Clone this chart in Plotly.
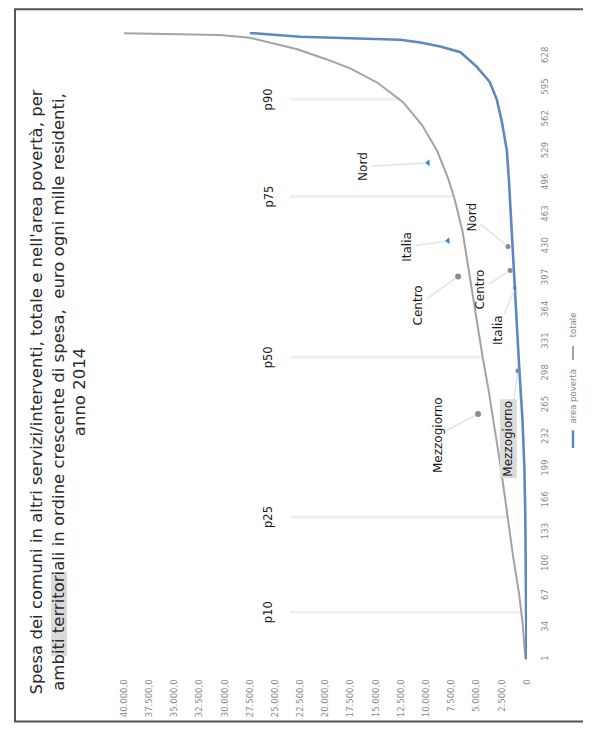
import numpy as np
import plotly.graph_objects as go

# ---------------- data ----------------
rank_totale = [1, 20, 40, 70, 109, 140, 171, 200, 240, 280, 315, 355, 395, 446, 480,
               500, 529, 556, 580, 600, 615, 625, 635, 642, 647, 650, 652]
val_totale = [150, 300, 450, 800, 1400, 1800, 2200, 2600, 3200, 3800, 4400, 5000, 5600,
              6400, 7200, 7800, 8900, 10400, 12300, 14800, 17500, 20000, 22800, 25500,
              27500, 30500, 41000]

rank_poverta = [1, 50, 100, 150, 200, 250, 300, 350, 400, 450, 500, 530, 560, 583, 601,
                617, 632, 638, 642, 645, 648, 652]
val_poverta = [50, 80, 120, 170, 260, 450, 750, 1000, 1300, 1550, 1800, 2000, 2500, 3000,
               3700, 5000, 6600, 8600, 10600, 12600, 22500, 27500]

value_ticks = [0, 2500, 5000, 7500, 10000, 12500, 15000, 17500, 20000, 22500, 25000,
               27500, 30000, 32500, 35000, 37500, 40000]
value_ticktext = ["0", "2.500,0", "5.000,0", "7.500,0", "10.000,0", "12.500,0", "15.000,0",
                  "17.500,0", "20.000,0", "22.500,0", "25.000,0", "27.500,0", "30.000,0",
                  "32.500,0", "35.000,0", "37.500,0", "40.000,0"]
rank_ticks = [1, 34, 67, 100, 133, 166, 199, 232, 265, 298, 331, 364, 397, 430, 463,
              496, 529, 562, 595, 628]

pct_labels = ["p10", "p25", "p50", "p75", "p90"]
pct_ranks = [50, 149, 315, 482, 583]

reg_names = ["Nord", "Italia", "Centro", "Mezzogiorno"]
reg_tot_rank = [517, 436, 399, 256]
reg_tot_val = [9820, 7840, 6845, 4860]
reg_pov_rank = [430, 387, 405, 301]
reg_pov_val = [1885, 1190, 1686, 893]

title_lines = ["Spesa dei comuni in altri servizi/interventi, totale e nell'area povertà, per",
               "ambiti territoriali in ordine crescente di spesa,  euro ogni mille residenti,",
               "anno 2014"]
legend_names = ["area povertà", "totale"]

# ---------------- layout constants ----------------
# page is 591x737 but the browser body keeps an 8px margin -> shrink figure
OFF = 8
W, H = 591 - 2 * OFF, 737 - 2 * OFF
# plot area in page pixels
PL, PR, PT, PB = 124, 527, 32, 673
L, R, T, B = PL - OFF, PR - OFF, PT - OFF, PB - OFF
PW, PH = R - L, B - T


def px(x):  # page pixel -> paper x
    return (x - OFF - L) / PW


def py(y):  # page pixel -> paper y
    return (B - (y - OFF)) / PH


GRAY = "#a3a3a3"
BLUE = "#5d88c2"
TRI = "#2f8fde"
DOT = "#8c8c8c"
FONT = "DejaVu Sans"

fig = go.Figure()

# percentile guide lines (drawn first, under curves)
for r in pct_ranks:
    xe = float(np.interp(r, rank_totale, val_totale))
    fig.add_shape(type="line", xref="x", yref="y", x0=23500, x1=xe, y0=r, y1=r,
                  line=dict(color="#efefef", width=3), layer="below")

fig.add_trace(go.Scatter(x=val_totale, y=rank_totale, mode="lines", name="totale",
                         line=dict(color=GRAY, width=2), showlegend=False))
fig.add_trace(go.Scatter(x=val_poverta, y=rank_poverta, mode="lines", name="area povertà",
                         line=dict(color=BLUE, width=2.6), showlegend=False))

tot_sym = ["triangle-left", "triangle-left", "circle", "circle"]
tot_col = [TRI, TRI, DOT, DOT]
pov_sym = ["circle", "triangle-left", "circle", "circle"]
pov_col = [DOT, TRI, DOT, "#6f8fb8"]
fig.add_trace(go.Scatter(x=reg_tot_val, y=reg_tot_rank, mode="markers", showlegend=False,
                         marker=dict(symbol=tot_sym, color=tot_col, size=6)))
fig.add_trace(go.Scatter(x=reg_pov_val, y=reg_pov_rank, mode="markers", showlegend=False,
                         marker=dict(symbol=pov_sym, color=pov_col, size=5)))

# region labels with leader lines (offsets in px)
tot_off = {"Nord": (-65, 4), "Italia": (-41, 6), "Centro": (-40, 29), "Mezzogiorno": (-40, 21)}
pov_off = {"Nord": (-36, -29), "Italia": (-17, 42), "Centro": (-30, 19), "Mezzogiorno": (-10, 68)}
for n, r, v in zip(reg_names, reg_tot_rank, reg_tot_val):
    ax, ay = tot_off[n]
    fig.add_annotation(x=v, y=r, ax=ax, ay=ay, text=n, textangle=-90, showarrow=True,
                       arrowhead=0, arrowwidth=1.5, arrowcolor="#e4e4e4", standoff=3,
                       font=dict(family=FONT, size=12, color="#1a1a1a"))
for n, r, v in zip(reg_names, reg_pov_rank, reg_pov_val):
    ax, ay = pov_off[n]
    fig.add_annotation(x=v, y=r, ax=ax, ay=ay, text=n, textangle=-90, showarrow=True,
                       arrowhead=0, arrowwidth=1.5, arrowcolor="#e4e4e4", standoff=3,
                       bgcolor="#dcdcdc" if n == "Mezzogiorno" else None,
                       font=dict(family=FONT, size=12, color="#1a1a1a"))

# percentile labels
for lab, r in zip(pct_labels, pct_ranks):
    fig.add_annotation(x=25700, y=r, text=lab, textangle=-90, showarrow=False,
                       font=dict(family=FONT, size=11.5, color="#1a1a1a"))

# highlight behind the word "territoriali" in the title (scan marker)
fig.add_shape(type="rect", xref="paper", yref="paper", x0=px(51), x1=px(67),
              y0=py(662), y1=py(577), fillcolor="#dadada", line=dict(width=0), layer="below")

# title
fig.add_annotation(xref="paper", yref="paper", x=px(58), y=py(396), text="<br>".join(title_lines),
                   xanchor="center", yanchor="middle",
                   textangle=-90, showarrow=False, align="center",
                   font=dict(family=FONT, size=16.5, color="#2b2b2b"))

# legend (rotated, custom)
fig.add_shape(type="line", xref="paper", yref="paper", x0=px(573), x1=px(573),
              y0=py(452), y1=py(434), line=dict(color=BLUE, width=2.5))
fig.add_annotation(xref="paper", yref="paper", x=px(573), y=py(400), text=legend_names[0],
                   xanchor="center", yanchor="middle",
                   textangle=-90, showarrow=False, font=dict(family=FONT, size=8.5, color="#888"))
fig.add_shape(type="line", xref="paper", yref="paper", x0=px(573), x1=px(573),
              y0=py(363), y1=py(349), line=dict(color=GRAY, width=2))
fig.add_annotation(xref="paper", yref="paper", x=px(573), y=py(328), text=legend_names[1],
                   xanchor="center", yanchor="middle",
                   textangle=-90, showarrow=False, font=dict(family=FONT, size=8.5, color="#888"))

# outer frame (page pixels 15..588 x 8..729)
fig.add_shape(type="rect", xref="paper", yref="paper", x0=px(15), x1=px(587),
              y0=py(728), y1=py(9), line=dict(color="#555", width=2))

fig.update_layout(
    width=W, height=H,
    margin=dict(l=L, r=W - R, t=T, b=H - B, pad=0),
    paper_bgcolor="white", plot_bgcolor="white",
    xaxis=dict(range=[40000, 0], tickvals=value_ticks, ticktext=value_ticktext,
               tickangle=-90, showgrid=False, zeroline=False, showline=False,
               ticks="outside", ticklen=8, tickcolor="rgba(0,0,0,0)",
               tickfont=dict(family=FONT, size=8.5, color="#8a8a8a")),
    yaxis=dict(range=[-7, 653], side="right", tickvals=rank_ticks, tickangle=-90,
               showgrid=False, zeroline=False, showline=False,
               ticks="outside", ticklen=10, tickcolor="rgba(0,0,0,0)",
               tickfont=dict(family=FONT, size=8.5, color="#8a8a8a")),
    showlegend=False,
)

fig.write_html("out.html")
